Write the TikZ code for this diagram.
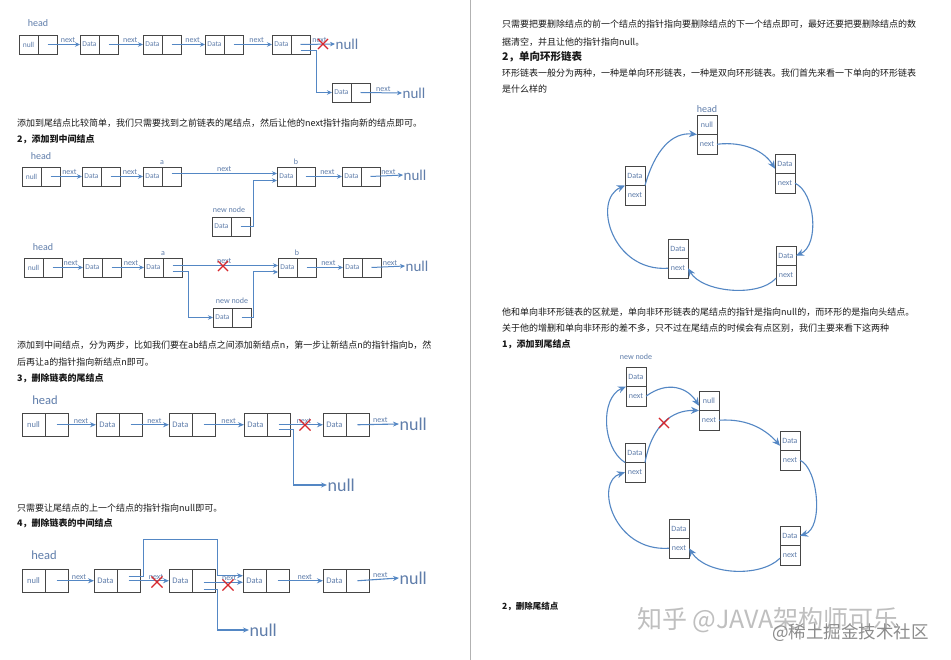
\documentclass[tikz,border=0pt]{standalone}
\usepackage{fontspec}
\setmainfont{Noto Sans CJK SC}
\newfontfamily\lblfont{Carlito}
\usepackage{tikz}
\usetikzlibrary{positioning,arrows.meta,shapes.misc}
\definecolor{lineblue}{RGB}{84,135,196}
\definecolor{lblue}{RGB}{95,125,170}
\definecolor{boxgray}{RGB}{70,70,70}
\definecolor{xred}{RGB}{215,40,45}
\definecolor{ink}{RGB}{25,25,25}
% two cells side by side: data + pointer
\newcommand{\cellpair}[4][cellS]{%
  \node[#1,anchor=north west] (#2d) at (#3) {#4};
  \node[#1,right=0pt of #2d] (#2p) {};}
% two cells stacked: data over next
\newcommand{\ringnode}[4]{%
  \node[cellC,anchor=north west] (#1d) at (#2) {#3};
  \node[cellC,below=0pt of #1d] (#1p) {#4};}

\begin{document}
\begin{tikzpicture}[x=1pt,y=-1pt,
  cellS/.style={draw=boxgray,line width=0.6pt,minimum width=19pt,minimum height=19pt,inner sep=0pt,outer sep=0pt,text=lblue,font=\lblfont\fontsize{7.5}{8}\selectfont},
  cellL/.style={cellS,minimum width=23pt,minimum height=23.5pt,font=\lblfont\fontsize{8.5}{9}\selectfont},
  cellC/.style={cellS,minimum width=20pt,minimum height=19.5pt,font=\lblfont\fontsize{8}{9}\selectfont},
  link/.style={draw=lineblue,line width=1pt,-{Stealth[length=5pt,width=4.5pt]}},
  linkL/.style={draw=lineblue,line width=1.1pt,-{Stealth[length=6pt,width=5pt]}},
  ring/.style={draw=lineblue,line width=1.1pt,-{Stealth[length=8pt,width=7pt]}},
  nxt/.style={font=\lblfont\fontsize{8}{8}\selectfont,text=lblue,inner sep=1pt},
  hd/.style={font=\lblfont\fontsize{10}{10}\selectfont,text=lblue,inner sep=0pt},
  hdL/.style={hd,font=\lblfont\fontsize{12.5}{13}\selectfont},
  nul/.style={font=\lblfont\fontsize{15}{15}\selectfont,text=lblue,inner sep=0.5pt,anchor=west},
  nulL/.style={nul,font=\lblfont\fontsize{18}{18}\selectfont},
  xmark/.style={cross out,draw=xred,line width=1.1pt,minimum size=9pt,inner sep=0pt},
  para/.style={anchor=west,inner sep=0pt,text=ink,font=\fontsize{9}{9}\selectfont},
  sect/.style={para,font=\fontsize{9}{9}\selectfont\bfseries},
  wm/.style={anchor=west,inner sep=0pt,text=black!25,font=\fontsize{25}{25}\selectfont},
  wmB/.style={wm,text=black!45,font=\fontsize{17.5}{18}\selectfont}
]
\useasboundingbox[fill=white] (0,0) rectangle (951,660);
\draw[black!30,line width=0.7pt] (470,0) -- (470,660);

% 1. add to tail
\node[hd] (hA) at (38,23) {head};
\cellpair{a1}{19,35}{null}
\cellpair{a2}{80,35}{Data}
\cellpair{a3}{143,35}{Data}
\cellpair{a4}{205,35}{Data}
\cellpair{a5}{272,35}{Data}
\cellpair{a6}{332,83}{Data}
\node[nul] (nA1) at (335,44) {null};
\node[nul] (nA2) at (402,93) {null};
\draw[link] (a1p.center) -- node[nxt,above,pos=.63] (tA1) {next} (a2d.west);
\draw[link] (a2p.center) -- node[nxt,above,pos=.63] (tA2) {next} (a3d.west);
\draw[link] (a3p.center) -- node[nxt,above,pos=.63] (tA3) {next} (a4d.west);
\draw[link] (a4p.center) -- node[nxt,above,pos=.6] (tA4) {next} (a5d.west);
\draw[link] (a5p.center) -- node[nxt,above,pos=.55] (tA5) {next} (nA1.west);
\draw[link] ([yshift=-6pt]a5p.center) -- ++(16pt,0) |- (a6d.west);
\draw[link] (a6p.center) -- node[nxt,above,pos=.55] (tA6) {next} (nA2.west);
\node[xmark] (xA) at (323,44) {};

\node[para] (pA) at (17,123) {添加到尾结点比较简单，我们只需要找到之前链表的尾结点，然后让他的next指针指向新的结点即可。};
\node[sect] (sB) at (17,139) {2，添加到中间结点};

% 2. add in the middle, step one
\node[hd] (hB) at (41,156) {head};
\cellpair{b1}{22,167}{null}
\cellpair{b2}{82,167}{Data}
\cellpair{b3}{143,167}{Data}
\cellpair{b4}{277,167}{Data}
\cellpair{b5}{342,167}{Data}
\cellpair{n1}{212,217}{Data}
\node[nxt,above=1pt of b3d.north east] (aB) {a};
\node[nxt,above=1pt of b4d.north east] (bB) {b};
\node[nxt] (nwB) at (229,210) {new node};
\node[nul] (nB) at (403,175) {null};
\draw[link] (b1p.center) -- node[nxt,above,pos=.6] (tB1) {next} (b2d.west);
\draw[link] (b2p.center) -- node[nxt,above,pos=.6] (tB2) {next} (b3d.west);
\draw[link] ([yshift=3pt]b3p.center) -- node[nxt,above,pos=.5] (tB3) {next} ([yshift=3pt]b4d.west);
\draw[link] (n1p.center) -- ++(13pt,0) |- ([yshift=-4pt]b4d.west);
\draw[link] (b4p.center) -- node[nxt,above,pos=.6] (tB4) {next} (b5d.west);
\draw[link] (b5p.center) -- node[nxt,above,pos=.55] (tB5) {next} (nB.west);

% 2. add in the middle, step two
\node[hd] (hC) at (43,247) {head};
\cellpair{c1}{24,258}{null}
\cellpair{c2}{83,258}{Data}
\cellpair{c3}{144,258}{Data}
\cellpair{c4}{278,258}{Data}
\cellpair{c5}{343,258}{Data}
\cellpair{n2}{213,308}{Data}
\node[nxt,above=1pt of c3d.north east] (aC) {a};
\node[nxt,above=1pt of c4d.north east] (bC) {b};
\node[nxt] (nwC) at (232,301) {new node};
\node[nul] (nC) at (405,266) {null};
\draw[link] (c1p.center) -- node[nxt,above,pos=.6] (tC1) {next} (c2d.west);
\draw[link] (c2p.center) -- node[nxt,above,pos=.6] (tC2) {next} (c3d.west);
\draw[link] ([yshift=2pt]c3p.center) -- node[nxt,above,pos=.49] (tC3) {next} ([yshift=2pt]c4d.west);
\draw[link] ([yshift=-4.5pt]c3p.center) -- ++(16pt,0) |- (n2d.west);
\draw[link] (n2p.center) -- ++(12pt,0) |- ([yshift=-4.5pt]c4d.west);
\draw[link] (c4p.center) -- node[nxt,above,pos=.6] (tC4) {next} (c5d.west);
\draw[link] (c5p.center) -- node[nxt,above,pos=.55] (tC5) {next} (nC.west);
\node[xmark] (xC) at (223,266) {};

\node[para] (pC1) at (17,345) {添加到中间结点，分为两步，比如我们要在ab结点之间添加新结点n，第一步让新结点n的指针指向b，然};
\node[para] (pC2) at (17,362) {后再让a的指针指向新结点n即可。};
\node[sect] (sD) at (17,378) {3，删除链表的尾结点};

% 3. delete the tail
\node[hdL] (hD) at (45,400) {head};
\cellpair[cellL]{d1}{22,413}{null}
\cellpair[cellL]{d2}{96,413}{Data}
\cellpair[cellL]{d3}{169,413}{Data}
\cellpair[cellL]{d4}{244,413}{Data}
\cellpair[cellL]{d5}{323,413}{Data}
\node[nulL] (nD1) at (399,424) {null};
\node[nulL] (nD2) at (327,485) {null};
\draw[linkL] (d1p.center) -- node[nxt,above,pos=.62] (tD1) {next} (d2d.west);
\draw[linkL] (d2p.center) -- node[nxt,above,pos=.62] (tD2) {next} (d3d.west);
\draw[linkL] (d3p.center) -- node[nxt,above,pos=.62] (tD3) {next} (d4d.west);
\draw[linkL] (d4p.center) -- node[nxt,above,pos=.57] (tD4) {next} (d5d.west);
\draw[linkL] ([yshift=-5pt]d4p.center) -- ++(15pt,0) |- (nD2.west);
\draw[linkL] (d5p.center) -- node[nxt,above,pos=.55] (tD5) {next} (nD1.west);
\node[xmark,minimum size=10pt] (xD) at (305,425) {};

\node[para] (pD) at (17,508) {只需要让尾结点的上一个结点的指针指向null即可。};
\node[sect] (sE) at (17,523) {4，删除链表的中间结点};

% 4. delete a middle node
\node[hdL] (hE) at (44,555) {head};
\cellpair[cellL]{e1}{22,569}{null}
\cellpair[cellL]{e2}{94,569}{Data}
\cellpair[cellL]{e3}{169,569}{Data}
\cellpair[cellL]{e4}{243,569}{Data}
\cellpair[cellL]{e5}{323,569}{Data}
\node[nulL] (nE1) at (399,578) {null};
\node[nulL] (nE2) at (249,630) {null};
\draw[linkL] (e1p.center) -- node[nxt,above,pos=.6] (tE1) {next} (e2d.west);
\draw[linkL] (e2p.center) -- node[nxt,above,pos=.68] (tE2) {next} (e3d.west);
\draw[linkL] ([yshift=4pt]e2p.center) -- ++(15pt,0) |- ++(74pt,37pt) |- ([yshift=5pt]e4d.west);
\draw[linkL] ([yshift=-1.5pt]e3p.center) -- node[nxt,above,pos=.65] (tE3) {next} ([yshift=-1.5pt]e4d.west);
\draw[linkL] ([yshift=-9pt]e3p.center) -- ++(14pt,0) |- (nE2.west);
\draw[linkL] (e4p.center) -- node[nxt,above,pos=.6] (tE4) {next} (e5d.west);
\draw[linkL] (e5p.center) -- node[nxt,above,pos=.55] (tE5) {next} (nE1.west);
\node[xmark,minimum size=10pt] (xE1) at (157,582) {};
\node[xmark,minimum size=10pt] (xE2) at (228,585) {};

% right page
\node[para] (pR1) at (502,24) {只需要把要删除结点的前一个结点的指针指向要删除结点的下一个结点即可，最好还要把要删除结点的数};
\node[para] (pR2) at (502,42) {据清空，并且让他的指针指向null。};
\node[sect,font=\fontsize{10.5}{11}\selectfont\bfseries] (sR) at (502,57) {2，单向环形链表};
\node[para] (pR3) at (502,73) {环形链表一般分为两种，一种是单向环形链表，一种是双向环形链表。我们首先来看一下单向的环形链表};
\node[para] (pR4) at (502,89) {是什么样的};

% ring list
\node[hd] (hR) at (707,109) {head};
\ringnode{r1}{697,115}{null}{next}
\ringnode{r2}{775,154}{Data}{next}
\ringnode{r3}{776,246}{Data}{next}
\ringnode{r4}{668,239}{Data}{next}
\ringnode{r5}{625,166}{Data}{next}
\draw[ring] (r1p.east) .. controls (745,141) and (765,152) .. ([yshift=-5pt]r2d.west);
\draw[ring] (r2p.east) .. controls (815,192) and (820,245) .. (r3d.east);
\draw[ring] ([yshift=-3pt]r3p.west) .. controls (758,298) and (702,292) .. (r4p.east);
\draw[ring] (r4p.west) .. controls (612,272) and (592,200) .. (r5p.north west);
\draw[ring] (r5p.north east) .. controls (655,150) and (672,132) .. (r1d.south west);

\node[para] (pR5) at (502,312) {他和单向非环形链表的区就是，单向非环形链表的尾结点的指针是指向null的，而环形的是指向头结点。};
\node[para] (pR6) at (502,328) {关于他的增删和单向非环形的差不多，只不过在尾结点的时候会有点区别，我们主要来看下这两种};
\node[sect] (sR1) at (502,344) {1，添加到尾结点};

% ring list, add to tail
\node[nxt] (nwR) at (636,357) {new node};
\ringnode{s0}{626,367}{Data}{next}
\ringnode{s1}{699,391}{null}{next}
\ringnode{s2}{780,431}{Data}{next}
\ringnode{s3}{780,526}{Data}{next}
\ringnode{s4}{669,519}{Data}{next}
\ringnode{s5}{625,443}{Data}{next}
\draw[ring] (s0p.east) .. controls (668,380) and (688,388) .. ([yshift=-5pt]s1d.west);
\draw[ring] (s5p.north east) .. controls (652,425) and (672,410) .. (s1d.south west);
\draw[ring] (s1p.east) .. controls (750,418) and (768,432) .. ([yshift=-5pt]s2d.west);
\draw[ring] (s2p.east) .. controls (818,468) and (824,528) .. (s3d.east);
\draw[ring] ([yshift=-3pt]s3p.west) .. controls (760,578) and (706,575) .. (s4p.east);
\draw[ring] (s4p.west) .. controls (613,552) and (594,482) .. (s5p.west);
\draw[ring] (s5d.south west) .. controls (602,448) and (600,398) .. (s0d.south west);
\node[xmark] (xR) at (664,423) {};

\node[sect,font=\fontsize{8.5}{9}\selectfont\bfseries] (sR2) at (502,606) {2，删除尾结点};
\node[wm] (wm1) at (637,620) {知乎 @JAVA架构师可乐};
\node[wmB] (wm2) at (772,633) {@稀土掘金技术社区};
\end{tikzpicture}
\end{document}
